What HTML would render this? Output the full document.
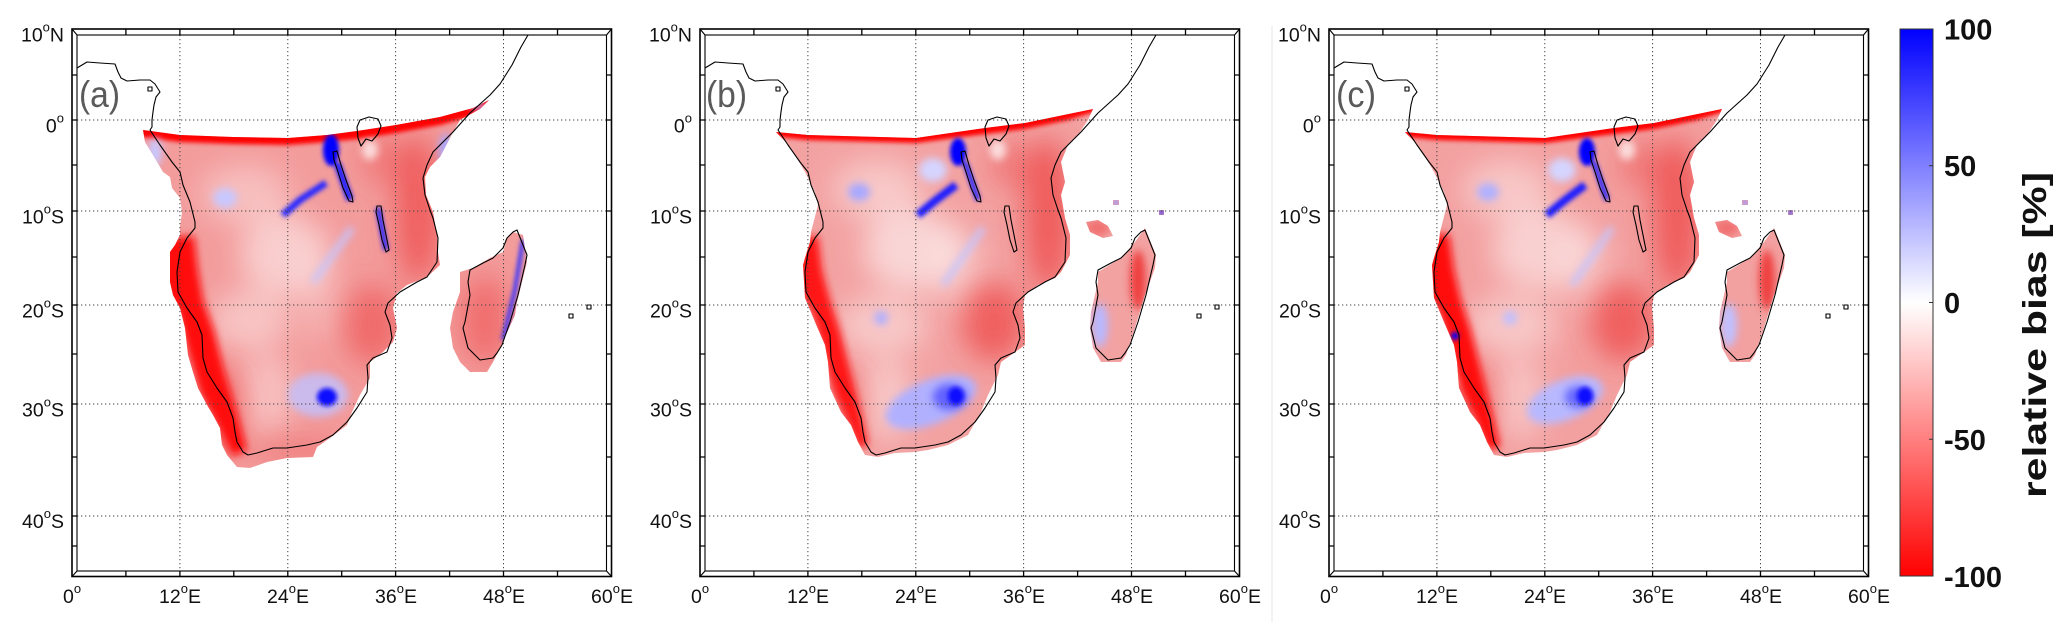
<!DOCTYPE html>
<html><head><meta charset="utf-8">
<style>
html,body{margin:0;padding:0;background:#fff;}
svg{display:block;}
text{font-family:"Liberation Sans",Arial,sans-serif;fill:#111;}
</style></head><body>
<svg width="2067" height="622" viewBox="0 0 2067 622" xmlns="http://www.w3.org/2000/svg">
<defs>
 <filter id="f2" x="-50%" y="-50%" width="200%" height="200%"><feGaussianBlur stdDeviation="2"/></filter>
 <filter id="f4" x="-50%" y="-50%" width="200%" height="200%"><feGaussianBlur stdDeviation="4"/></filter>
 <filter id="f8" x="-50%" y="-50%" width="200%" height="200%"><feGaussianBlur stdDeviation="8"/></filter>
 <filter id="f14" x="-50%" y="-50%" width="200%" height="200%"><feGaussianBlur stdDeviation="14"/></filter>
 <clipPath id="cA">
  <polygon points="143,130 180,135 233,137 288,138 327,135 357,131 396,125 440,117 473,108 489,100 480,109 460,120 450,138 440,157 430,167 425,177 426,195 433,212 437,235 438,252 440,265 427,277 407,285 397,293 393,308 397,328 393,342 383,352 370,362 370,378 360,395 352,412 347,425 330,438 317,447 313,457 287,458 267,462 250,468 237,467 227,455 222,445 220,428 213,415 207,405 198,388 193,372 188,355 185,328 180,308 173,295 170,282 170,252 175,245 180,235 180,227 182,212 180,198 172,188 170,177 163,172 153,155 145,142"/>
  <polygon points="513,232 523,235 527,262 517,302 515,315 500,348 493,362 487,372 470,372 460,362 453,348 450,328 453,312 460,292 460,272 473,268 490,258 503,252 507,238"/>
 </clipPath>
 <clipPath id="cB">
  <polygon points="148,132 180,135 288,138 357,128 397,123 465,109 460,120 450,135 440,145 433,162 437,182 433,195 437,218 442,235 442,255 433,272 427,278 410,285 397,295 395,308 397,328 397,345 383,355 373,362 370,375 360,395 353,412 340,435 320,445 300,450 287,452 267,453 250,457 237,455 230,442 223,425 213,412 202,388 200,362 197,345 187,322 177,298 175,265 177,258 182,242 183,232 190,205 187,192 177,172 163,148"/>
  <polygon points="517,228 528,255 527,268 517,295 507,328 498,355 493,362 473,362 465,348 462,328 463,312 470,282 470,272 493,258 507,242"/>
  <polygon points="458,222 470,220 480,226 485,236 475,238 462,232"/>
  <rect x="485" y="200" width="6" height="5"/>
  <rect x="531" y="210" width="5" height="5"/>
 </clipPath>
 <linearGradient id="cbg" x1="0" y1="0" x2="0" y2="1">
  <stop offset="0" stop-color="#0000ff"/><stop offset="0.5" stop-color="#ffffff"/><stop offset="1" stop-color="#ff0000"/>
 </linearGradient>
 <g id="over">
  <path fill="none" stroke="#444" stroke-width="1" stroke-dasharray="1.3 2.7" d="M179.9 35V571M287.8 35V571M395.6 35V571M503.5 35V571M77 120H606.5M77 211H606.5M77 305H606.5M77 404H606.5M77 516H606.5"/>
  <g fill="none" stroke="#000" stroke-width="1.1" stroke-linejoin="round">
   <path d="M77 68L87 62L100 63L115 64L118 72L121 78L127 81L140 80L150 80L155 84L160 92L156 97L154 105L153 112L152 120L152 127L150 130L160 145L172 162L180 172L183 185L190 202L195 222L195 228L187 238L180 252L177 272L178 292L187 308L197 322L202 335L203 358L207 372L217 388L227 402L233 418L235 432L237 442L243 452L248 455L257 453L273 448L287 448L307 445L320 442L333 435L347 422L357 408L367 392L368 378L367 365L373 358L387 352L392 338L390 325L385 312L388 303L400 292L417 282L427 277L437 262L438 238L433 218L430 210L425 195L423 178L427 165L433 152L443 142L453 132L470 113L490 95L500 84L512 65L521 47L528 35"/>
   <path d="M357 127L360 120L369 117L378 119L381 126L378 134L372 141L366 139L361 146L358 138Z"/>
   <path d="M333 152L337 151L341 165L346 180L352 196L353 202L349 201L343 188L338 172L334 160Z"/>
   <path d="M377 206L381 206L383 220L386 235L389 250L386 252L382 240L379 225L376 212Z"/>
   <path d="M513 232L517 230L527 255L525 265L518 295L510 322L502 345L497 353L493 358L480 360L468 348L463 328L465 322L470 295L468 282L470 270L483 263L493 258L503 248L507 238Z"/>
   <path d="M148 87L152 87L152 91L148 91Z"/>
   <path d="M587 305L591 305L591 309L587 309Z"/>
   <path d="M569 314L573 314L573 318L569 318Z"/>
  </g>
  <g fill="none" stroke="#000">
   <rect x="72" y="29" width="539.5" height="547.5" stroke-width="1.6"/>
   <rect x="77" y="35" width="529.5" height="536" stroke-width="1.1"/>
   <path stroke-width="1.1" d="M72 29L77 35M611.5 29L606.5 35M72 576.5L77 571M611.5 576.5L606.5 571"/>
   <path stroke-width="1.3" d="M125.9 29V35M179.9 29V35M233.8 29V35M287.8 29V35M341.7 29V35M395.6 29V35M449.6 29V35M503.5 29V35M557.5 29V35M125.9 571V576.5M179.9 571V576.5M233.8 571V576.5M287.8 571V576.5M341.7 571V576.5M395.6 571V576.5M449.6 571V576.5M503.5 571V576.5M557.5 571V576.5M72 75H77M72 120H77M72 165H77M72 211H77M72 257H77M72 305H77M72 354H77M72 404H77M72 457H77M72 516H77M72 546H77M606.5 75H611.5M606.5 120H611.5M606.5 165H611.5M606.5 211H611.5M606.5 257H611.5M606.5 305H611.5M606.5 354H611.5M606.5 404H611.5M606.5 457H611.5M606.5 516H611.5M606.5 546H611.5"/>
  </g>
 </g>
</defs>

<rect width="2067" height="622" fill="#fff"/>
<line x1="1272" y1="26" x2="1272" y2="622" stroke="#e4e4e4" stroke-width="1"/>

<!-- Panel A data -->
<g clip-path="url(#cA)">
 <rect x="100" y="90" width="460" height="400" fill="#f39c9c"/>
 <g filter="url(#f14)" fill="#fff">
  <ellipse cx="245" cy="195" rx="45" ry="30" opacity=".35"/>
  <ellipse cx="285" cy="255" rx="45" ry="40" opacity=".5"/>
  <ellipse cx="250" cy="320" rx="40" ry="30" opacity=".4"/>
  <ellipse cx="265" cy="395" rx="30" ry="40" opacity=".35"/>
  <ellipse cx="320" cy="300" rx="20" ry="40" opacity=".25"/>
 </g>
 <g filter="url(#f14)" fill="#ee4848">
  <ellipse cx="418" cy="210" rx="22" ry="75" opacity=".75"/>
  <ellipse cx="372" cy="325" rx="28" ry="40" opacity=".6"/>
  <ellipse cx="225" cy="410" rx="18" ry="45" opacity=".6"/>
  <ellipse cx="300" cy="450" rx="50" ry="12" opacity=".4"/>
  <ellipse cx="385" cy="160" rx="25" ry="25" opacity=".4"/>
  <ellipse cx="485" cy="320" rx="25" ry="45" opacity=".55"/>
 </g>
 <polygon filter="url(#f4)" fill="#ff0a0a" points="160,238 194,236 198,270 203,300 214,330 224,370 236,410 247,450 232,456 215,420 200,392 188,352 178,312 162,292"/>
 <polygon filter="url(#f2)" fill="#ff0000" points="140,118 492,88 497,104 473,116 440,125 396,133 357,139 327,142 288,145 233,144 180,142 140,137"/>
 <g filter="url(#f4)">
  <ellipse cx="225" cy="198" rx="12" ry="10" fill="#c8c8ff"/>
  <ellipse cx="318" cy="395" rx="30" ry="22" fill="#c0c0ff" opacity=".8"/>
  <path d="M352 228L313 282" stroke="#c4c4ff" stroke-width="6" fill="none"/>
  <ellipse cx="155" cy="152" rx="7" ry="14" fill="#c8c8ff"/>
  <ellipse cx="446" cy="150" rx="7" ry="16" fill="#a8a8ff"/>
  <ellipse cx="478" cy="106" rx="8" ry="4" fill="#b0b0ff"/>
  <ellipse cx="370" cy="150" rx="8" ry="10" fill="#fff" opacity=".7"/>
 </g>
 <g filter="url(#f2)" fill="none">
  <ellipse cx="331" cy="150" rx="8" ry="16" fill="#0000ff"/>
  <path d="M337 163L350 200" stroke="#1a1aff" stroke-width="7"/>
  <path d="M283 215L300 200L326 183" stroke="#2a2aff" stroke-width="7"/>
  <path d="M378 208L386 250" stroke="#2020ff" stroke-width="5"/>
  <ellipse cx="327" cy="397" rx="10" ry="9" fill="#0a0aff"/>
  <path d="M523 240L515 290L503 340" stroke="#3030ff" stroke-width="4"/>
 </g>
</g>

<!-- Panel B data -->
<g transform="translate(628,0)">
<g clip-path="url(#cB)">
 <rect x="100" y="90" width="460" height="400" fill="#f3a2a2"/>
 <g filter="url(#f14)" fill="#fff">
  <ellipse cx="250" cy="190" rx="45" ry="30" opacity=".4"/>
  <ellipse cx="285" cy="250" rx="50" ry="40" opacity=".55"/>
  <ellipse cx="255" cy="325" rx="45" ry="30" opacity=".4"/>
  <ellipse cx="255" cy="400" rx="30" ry="40" opacity=".4"/>
  <ellipse cx="330" cy="270" rx="25" ry="40" opacity=".3"/>
 </g>
 <g filter="url(#f14)" fill="#ee4444">
  <ellipse cx="420" cy="215" rx="24" ry="78" opacity=".75"/>
  <ellipse cx="366" cy="322" rx="32" ry="40" opacity=".7"/>
  <ellipse cx="222" cy="405" rx="14" ry="40" opacity=".5"/>
  <ellipse cx="385" cy="165" rx="25" ry="25" opacity=".4"/>
 </g>
 <polygon filter="url(#f4)" fill="#ff1212" points="170,238 190,236 194,270 202,300 212,330 222,370 232,410 240,445 230,448 218,418 206,392 195,352 184,312 172,292"/>
 <polygon filter="url(#f2)" fill="#ff0000" points="140,120 470,96 472,110 440,120 397,129 357,134 288,143 180,140 140,136"/>
 <g filter="url(#f4)">
  <ellipse cx="231" cy="192" rx="11" ry="9" fill="#a8a8ff"/>
  <ellipse cx="253" cy="318" rx="7" ry="7" fill="#b0b0ff"/>
  <path d="M355 228L315 285" stroke="#c4c4ff" stroke-width="6" fill="none"/>
  <ellipse cx="305" cy="170" rx="14" ry="12" fill="#d4d4ff"/>
  <ellipse cx="303" cy="402" rx="48" ry="22" fill="#b0b0ff" transform="rotate(-22 303 402)"/>
  <ellipse cx="322" cy="397" rx="18" ry="14" fill="#6464ff"/>
  <ellipse cx="472" cy="325" rx="8" ry="22" fill="#b8b8ff"/>
  <ellipse cx="510" cy="280" rx="8" ry="30" fill="#ee4040"/>
  <ellipse cx="470" cy="228" rx="12" ry="8" fill="#f07070"/>
  <ellipse cx="370" cy="150" rx="8" ry="10" fill="#fff" opacity=".7"/>
 </g>
 <g filter="url(#f2)" fill="none">
  <ellipse cx="330" cy="152" rx="8" ry="14" fill="#0000ff"/>
  <path d="M337 162L350 200" stroke="#2020ff" stroke-width="5"/>
  <path d="M290 215L308 200L328 185" stroke="#1e1eff" stroke-width="8"/>
  <ellipse cx="328" cy="396" rx="8" ry="9" fill="#0a0aff"/>
  <rect x="485" y="200" width="6" height="5" fill="#9a9aff"/>
  <rect x="531" y="210" width="5" height="5" fill="#3030ff"/>
 </g>
</g>
</g>

<!-- Panel C data -->
<g transform="translate(1257,0)">
<g clip-path="url(#cB)">
 <rect x="100" y="90" width="460" height="400" fill="#f3a0a0"/>
 <g filter="url(#f14)" fill="#fff">
  <ellipse cx="250" cy="190" rx="45" ry="30" opacity=".4"/>
  <ellipse cx="285" cy="250" rx="50" ry="40" opacity=".5"/>
  <ellipse cx="255" cy="325" rx="45" ry="30" opacity=".4"/>
  <ellipse cx="260" cy="400" rx="30" ry="40" opacity=".35"/>
  <ellipse cx="330" cy="270" rx="25" ry="40" opacity=".25"/>
 </g>
 <g filter="url(#f14)" fill="#ee4444">
  <ellipse cx="420" cy="215" rx="24" ry="78" opacity=".75"/>
  <ellipse cx="366" cy="322" rx="32" ry="40" opacity=".7"/>
  <ellipse cx="222" cy="405" rx="16" ry="42" opacity=".55"/>
  <ellipse cx="385" cy="165" rx="25" ry="25" opacity=".4"/>
 </g>
 <polygon filter="url(#f4)" fill="#ff0a0a" points="168,236 192,234 197,270 204,300 214,330 224,370 234,410 243,447 231,450 218,418 205,392 194,352 182,312 170,292"/>
 <polygon filter="url(#f2)" fill="#ff0000" points="140,120 470,96 472,110 440,120 397,129 357,134 288,143 180,140 140,136"/>
 <g filter="url(#f4)">
  <ellipse cx="231" cy="192" rx="11" ry="9" fill="#b0b0ff"/>
  <ellipse cx="253" cy="318" rx="7" ry="7" fill="#c0c0ff"/>
  <path d="M355 228L315 285" stroke="#c4c4ff" stroke-width="6" fill="none"/>
  <ellipse cx="305" cy="170" rx="14" ry="12" fill="#d4d4ff"/>
  <ellipse cx="308" cy="400" rx="40" ry="20" fill="#b8b8ff" transform="rotate(-22 308 400)"/>
  <ellipse cx="322" cy="397" rx="15" ry="12" fill="#6a6aff"/>
  <ellipse cx="472" cy="325" rx="8" ry="22" fill="#c0c0ff"/>
  <ellipse cx="510" cy="280" rx="8" ry="30" fill="#ee4040"/>
  <ellipse cx="470" cy="228" rx="12" ry="8" fill="#f07070"/>
  <ellipse cx="370" cy="150" rx="8" ry="10" fill="#fff" opacity=".7"/>
 </g>
 <g filter="url(#f2)" fill="none">
  <ellipse cx="330" cy="152" rx="8" ry="14" fill="#0000ff"/>
  <path d="M337 162L350 200" stroke="#2020ff" stroke-width="5"/>
  <path d="M290 215L308 200L328 185" stroke="#1e1eff" stroke-width="8"/>
  <ellipse cx="328" cy="396" rx="8" ry="9" fill="#0a0aff"/>
  <ellipse cx="198" cy="336" rx="4" ry="4" fill="#0000ff"/>
  <rect x="485" y="200" width="6" height="5" fill="#9a9aff"/>
  <rect x="531" y="210" width="5" height="5" fill="#5050ff"/>
 </g>
</g>
</g>

<use href="#over"/>
<use href="#over" x="628"/>
<use href="#over" x="1257"/>

<!-- Axis labels -->
<g font-size="19.5">
 <g text-anchor="end">
  <text x="64" y="41.5">10<tspan font-size="13" dy="-10">o</tspan><tspan dy="10">N</tspan></text>
  <text x="64" y="132.5">0<tspan font-size="13" dy="-10">o</tspan></text>
  <text x="64" y="223.5">10<tspan font-size="13" dy="-10">o</tspan><tspan dy="10">S</tspan></text>
  <text x="64" y="317.5">20<tspan font-size="13" dy="-10">o</tspan><tspan dy="10">S</tspan></text>
  <text x="64" y="416.5">30<tspan font-size="13" dy="-10">o</tspan><tspan dy="10">S</tspan></text>
  <text x="64" y="528">40<tspan font-size="13" dy="-10">o</tspan><tspan dy="10">S</tspan></text>
  <text x="692" y="41.5">10<tspan font-size="13" dy="-10">o</tspan><tspan dy="10">N</tspan></text>
  <text x="692" y="132.5">0<tspan font-size="13" dy="-10">o</tspan></text>
  <text x="692" y="223.5">10<tspan font-size="13" dy="-10">o</tspan><tspan dy="10">S</tspan></text>
  <text x="692" y="317.5">20<tspan font-size="13" dy="-10">o</tspan><tspan dy="10">S</tspan></text>
  <text x="692" y="416.5">30<tspan font-size="13" dy="-10">o</tspan><tspan dy="10">S</tspan></text>
  <text x="692" y="528">40<tspan font-size="13" dy="-10">o</tspan><tspan dy="10">S</tspan></text>
  <text x="1321" y="41.5">10<tspan font-size="13" dy="-10">o</tspan><tspan dy="10">N</tspan></text>
  <text x="1321" y="132.5">0<tspan font-size="13" dy="-10">o</tspan></text>
  <text x="1321" y="223.5">10<tspan font-size="13" dy="-10">o</tspan><tspan dy="10">S</tspan></text>
  <text x="1321" y="317.5">20<tspan font-size="13" dy="-10">o</tspan><tspan dy="10">S</tspan></text>
  <text x="1321" y="416.5">30<tspan font-size="13" dy="-10">o</tspan><tspan dy="10">S</tspan></text>
  <text x="1321" y="528">40<tspan font-size="13" dy="-10">o</tspan><tspan dy="10">S</tspan></text>
 </g>
 <g text-anchor="middle">
  <text x="72" y="603">0<tspan font-size="13" dy="-10">o</tspan></text>
  <text x="180" y="603">12<tspan font-size="13" dy="-10">o</tspan><tspan dy="10">E</tspan></text>
  <text x="288" y="603">24<tspan font-size="13" dy="-10">o</tspan><tspan dy="10">E</tspan></text>
  <text x="396" y="603">36<tspan font-size="13" dy="-10">o</tspan><tspan dy="10">E</tspan></text>
  <text x="504" y="603">48<tspan font-size="13" dy="-10">o</tspan><tspan dy="10">E</tspan></text>
  <text x="612" y="603">60<tspan font-size="13" dy="-10">o</tspan><tspan dy="10">E</tspan></text>
  <text x="700" y="603">0<tspan font-size="13" dy="-10">o</tspan></text>
  <text x="808" y="603">12<tspan font-size="13" dy="-10">o</tspan><tspan dy="10">E</tspan></text>
  <text x="916" y="603">24<tspan font-size="13" dy="-10">o</tspan><tspan dy="10">E</tspan></text>
  <text x="1024" y="603">36<tspan font-size="13" dy="-10">o</tspan><tspan dy="10">E</tspan></text>
  <text x="1132" y="603">48<tspan font-size="13" dy="-10">o</tspan><tspan dy="10">E</tspan></text>
  <text x="1240" y="603">60<tspan font-size="13" dy="-10">o</tspan><tspan dy="10">E</tspan></text>
  <text x="1329" y="603">0<tspan font-size="13" dy="-10">o</tspan></text>
  <text x="1437" y="603">12<tspan font-size="13" dy="-10">o</tspan><tspan dy="10">E</tspan></text>
  <text x="1545" y="603">24<tspan font-size="13" dy="-10">o</tspan><tspan dy="10">E</tspan></text>
  <text x="1653" y="603">36<tspan font-size="13" dy="-10">o</tspan><tspan dy="10">E</tspan></text>
  <text x="1761" y="603">48<tspan font-size="13" dy="-10">o</tspan><tspan dy="10">E</tspan></text>
  <text x="1869" y="603">60<tspan font-size="13" dy="-10">o</tspan><tspan dy="10">E</tspan></text>
 </g>
</g>

<!-- Panel letters -->
<g font-size="37">
 <text x="79" y="107" textLength="41" lengthAdjust="spacingAndGlyphs" style="fill:#5a5a5a">(a)</text>
 <text x="706" y="107" textLength="41" lengthAdjust="spacingAndGlyphs" style="fill:#5a5a5a">(b)</text>
 <text x="1336" y="107" textLength="40" lengthAdjust="spacingAndGlyphs" style="fill:#5a5a5a">(c)</text>
</g>

<!-- Colorbar -->
<rect x="1900" y="29" width="33" height="547" fill="url(#cbg)" stroke="#333" stroke-width="1"/>
<path d="M1929 165.75H1933M1929 302.5H1933M1929 439.25H1933" stroke="#333" stroke-width="1"/>
<g font-size="29" font-weight="bold">
 <text x="1944" y="39.5">100</text>
 <text x="1944" y="176">50</text>
 <text x="1944" y="313">0</text>
 <text x="1944" y="450">-50</text>
 <text x="1944" y="587">-100</text>
</g>
<text transform="translate(2046,335) rotate(-90)" text-anchor="middle" font-size="33" font-weight="bold" textLength="326" lengthAdjust="spacingAndGlyphs">relative bias [%]</text>
</svg>
</body></html>
